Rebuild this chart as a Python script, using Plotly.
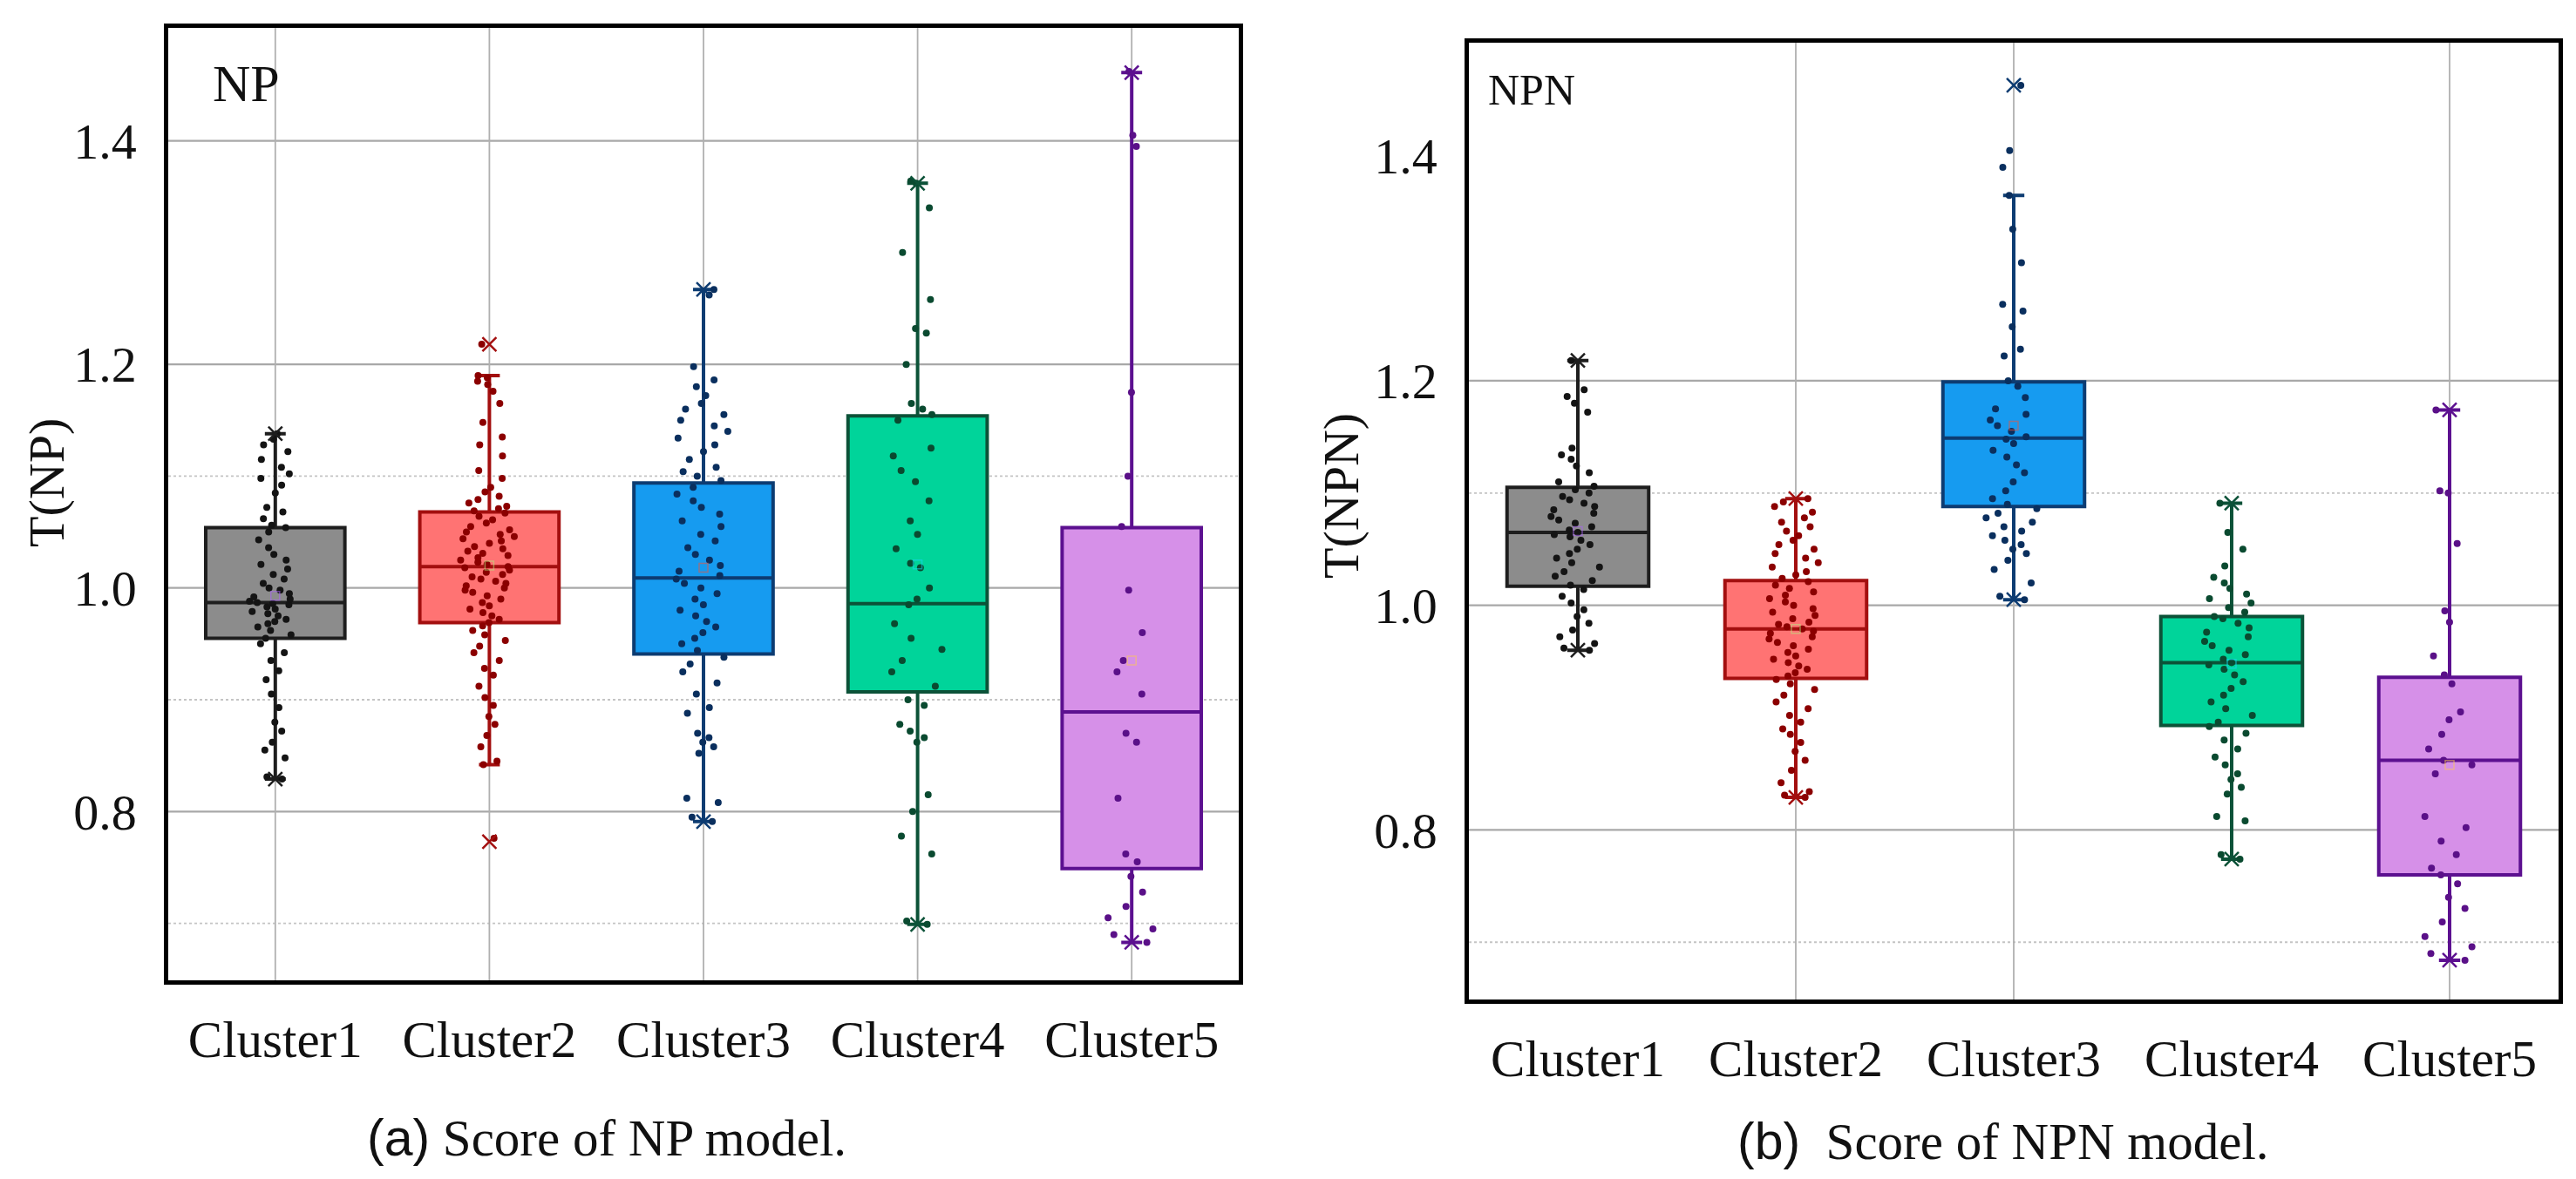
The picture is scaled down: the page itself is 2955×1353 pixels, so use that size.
import plotly.graph_objects as go

# ---------------- data ----------------
categories = ["Cluster1", "Cluster2", "Cluster3", "Cluster4", "Cluster5"]

# NP model: per-cluster scores
np_c1 = [0.829, 0.831, 0.848, 0.855, 0.862, 0.872, 0.880, 0.893, 0.905, 0.918, 0.926, 0.935, 0.942, 0.950,
         0.955, 0.958, 0.962, 0.965, 0.968, 0.970, 0.972, 0.975, 0.977, 0.979, 0.981, 0.983, 0.985, 0.986,
         0.987, 0.988, 0.990, 0.992, 0.995, 0.998, 1.000, 1.004, 1.008, 1.012, 1.017, 1.021, 1.025, 1.030,
         1.036, 1.043, 1.050, 1.054, 1.056, 1.062, 1.068, 1.072, 1.085, 1.092, 1.098, 1.102, 1.108, 1.115,
         1.122, 1.128, 1.133, 1.138]
np_c2 = [0.776, 0.842, 0.845, 0.858, 0.868, 0.878, 0.885, 0.895, 0.902, 0.912, 0.922, 0.928, 0.935, 0.942,
         0.948, 0.953, 0.958, 0.962, 0.966, 0.969, 0.972, 0.975, 0.978, 0.981, 0.984, 0.987, 0.990, 0.993,
         0.996, 0.998, 1.000, 1.002, 1.004, 1.006, 1.008, 1.010, 1.012, 1.014, 1.016, 1.018, 1.019, 1.021,
         1.023, 1.025, 1.027, 1.029, 1.031, 1.033, 1.035, 1.037, 1.040, 1.042, 1.044, 1.046, 1.048, 1.050,
         1.052, 1.055, 1.058, 1.061, 1.064, 1.067, 1.069, 1.071, 1.073, 1.076, 1.079, 1.082, 1.086, 1.090,
         1.098, 1.105, 1.118, 1.128, 1.135, 1.148, 1.165, 1.176, 1.182, 1.185, 1.188, 1.190, 1.218]
np_c3 = [0.791, 0.795, 0.808, 0.812, 0.852, 0.858, 0.862, 0.866, 0.870, 0.888, 0.893, 0.905, 0.915, 0.925,
         0.932, 0.938, 0.944, 0.950, 0.955, 0.960, 0.965, 0.970, 0.975, 0.980, 0.985, 0.990, 0.995, 1.000,
         1.004, 1.008, 1.011, 1.015, 1.020, 1.025, 1.030, 1.036, 1.042, 1.048, 1.055, 1.060, 1.066, 1.072,
         1.078, 1.084, 1.090, 1.096, 1.100, 1.104, 1.108, 1.115, 1.122, 1.128, 1.134, 1.140, 1.145, 1.150,
         1.155, 1.160, 1.165, 1.172, 1.180, 1.186, 1.198, 1.262, 1.267]
np_c4 = [0.699, 0.702, 0.762, 0.778, 0.800, 0.815, 0.862, 0.866, 0.872, 0.878, 0.895, 0.900, 0.912, 0.925,
         0.935, 0.945, 0.955, 0.968, 0.985, 0.990, 1.000, 1.018, 1.022, 1.035, 1.048, 1.060, 1.078, 1.095,
         1.105, 1.118, 1.125, 1.150, 1.155, 1.160, 1.165, 1.200, 1.228, 1.232, 1.258, 1.300, 1.340, 1.362,
         1.364]
np_c5 = [0.683, 0.690, 0.695, 0.705, 0.715, 0.728, 0.742, 0.755, 0.762, 0.812, 0.862, 0.870, 0.905, 0.925,
         0.935, 0.960, 0.998, 1.055, 1.100, 1.175, 1.395, 1.405, 1.462]

# NP box statistics
np_q1 = [0.955, 0.969, 0.941, 0.907, 0.749]
np_median = [0.987, 1.019, 1.009, 0.986, 0.889]
np_q3 = [1.054, 1.068, 1.094, 1.154, 1.054]
np_whisker_low = [0.829, 0.842, 0.791, 0.699, 0.683]
np_whisker_high = [1.138, 1.190, 1.267, 1.362, 1.461]
np_min = [0.829, 0.773, 0.791, 0.699, 0.683]
np_max = [1.138, 1.218, 1.267, 1.362, 1.461]
np_mean = [0.993, 1.020, 1.018, 1.021, 0.935]

# NPN model: per-cluster scores
npn_c1 = [0.960, 0.962, 0.966, 0.972, 0.978, 0.984, 0.990, 0.996, 1.002, 1.008, 1.014, 1.018, 1.022, 1.026,
          1.030, 1.034, 1.038, 1.042, 1.046, 1.050, 1.054, 1.058, 1.061, 1.063, 1.065, 1.067, 1.070, 1.073,
          1.076, 1.079, 1.082, 1.085, 1.088, 1.091, 1.094, 1.097, 1.100, 1.103, 1.106, 1.110, 1.118, 1.124,
          1.130, 1.134, 1.140, 1.172, 1.180, 1.186, 1.192, 1.218]
npn_c2 = [0.829, 0.831, 0.834, 0.842, 0.853, 0.862, 0.870, 0.878, 0.885, 0.890, 0.896, 0.902, 0.908, 0.914,
          0.920, 0.925, 0.930, 0.934, 0.937, 0.940, 0.943, 0.946, 0.949, 0.952, 0.955, 0.958, 0.961, 0.964,
          0.967, 0.970, 0.972, 0.975, 0.977, 0.979, 0.981, 0.983, 0.985, 0.988, 0.991, 0.994, 0.997, 1.000,
          1.003, 1.006, 1.009, 1.012, 1.015, 1.018, 1.021, 1.024, 1.027, 1.030, 1.034, 1.038, 1.042, 1.046,
          1.050, 1.054, 1.058, 1.062, 1.066, 1.070, 1.074, 1.078, 1.083, 1.088, 1.092, 1.095]
npn_c3 = [1.005, 1.008, 1.020, 1.032, 1.040, 1.046, 1.050, 1.054, 1.058, 1.062, 1.066, 1.070, 1.074, 1.078,
          1.082, 1.086, 1.090, 1.095, 1.102, 1.110, 1.118, 1.125, 1.132, 1.138, 1.144, 1.148, 1.150, 1.155,
          1.160, 1.165, 1.170, 1.175, 1.185, 1.195, 1.200, 1.222, 1.228, 1.248, 1.262, 1.268, 1.305, 1.335,
          1.365, 1.390, 1.405, 1.463]
npn_c4 = [0.774, 0.778, 0.808, 0.812, 0.832, 0.838, 0.845, 0.850, 0.858, 0.865, 0.872, 0.880, 0.886, 0.892,
          0.896, 0.902, 0.908, 0.914, 0.920, 0.926, 0.932, 0.938, 0.943, 0.947, 0.949, 0.952, 0.956, 0.960,
          0.964, 0.968, 0.972, 0.976, 0.980, 0.984, 0.988, 0.990, 0.994, 0.998, 1.002, 1.006, 1.010, 1.015,
          1.020, 1.025, 1.035, 1.050, 1.065, 1.091]
npn_c5 = [0.684, 0.690, 0.696, 0.705, 0.718, 0.730, 0.740, 0.752, 0.760, 0.766, 0.778, 0.790, 0.802, 0.812,
          0.850, 0.858, 0.862, 0.872, 0.885, 0.898, 0.905, 0.930, 0.938, 0.955, 0.985, 0.995, 1.055, 1.100,
          1.102, 1.174]

# NPN box statistics
npn_q1 = [1.017, 0.935, 1.088, 0.893, 0.760]
npn_median = [1.065, 0.979, 1.149, 0.949, 0.862]
npn_q3 = [1.105, 1.022, 1.199, 0.990, 0.936]
npn_whisker_low = [0.960, 0.829, 1.005, 0.774, 0.684]
npn_whisker_high = [1.218, 1.095, 1.365, 1.091, 1.174]
npn_min = [0.960, 0.829, 1.005, 0.774, 0.684]
npn_max = [1.218, 1.095, 1.463, 1.091, 1.174]
npn_mean = [1.066, 0.979, 1.160, 0.948, 0.858]

# axis ticks / grid values
y_tickvals = [0.8, 1.0, 1.2, 1.4]
y_ticktext = ["0.8", "1.0", "1.2", "1.4"]
np_major_grid = [0.8, 1.0, 1.2, 1.4]
np_minor_grid = [0.7, 0.9, 1.1]
npn_major_grid = [0.8, 1.0, 1.2]
npn_minor_grid = [0.7, 1.1]
np_vgrid = ["Cluster1", "Cluster2", "Cluster3", "Cluster4", "Cluster5"]
npn_vgrid = ["Cluster2", "Cluster3", "Cluster5"]

# ---------------- styles ----------------
fill_colors = ["#8c8c8c", "#ff7373", "#169bf0", "#00d49a", "#d690e8"]
line_colors = ["#1e1e1e", "#a30f0f", "#0d3c72", "#0c5238", "#5c1090"]
point_colors = ["#141414", "#8b0000", "#0a2f5e", "#0a4a30", "#5a1088"]
SERIF = "Liberation Serif, Times New Roman, serif"
SANS = "Liberation Sans, Arial, sans-serif"

fig = go.Figure()


def add_panel(samples, q1, med, q3, wlo, whi, vmin, vmax, vmean, xa, ya):
    for i, cat in enumerate(categories):
        fig.add_trace(go.Box(
            x=[cat], q1=[q1[i]], median=[med[i]], q3=[q3[i]],
            lowerfence=[wlo[i]], upperfence=[whi[i]],
            fillcolor=fill_colors[i], line=dict(color=line_colors[i], width=4),
            width=0.65, whiskerwidth=0.15, boxpoints=False,
            xaxis=xa, yaxis=ya, showlegend=False, hoverinfo="skip"))
        fig.add_trace(go.Box(
            x=[cat] * len(samples[i]), y=samples[i],
            boxpoints="all", jitter=0.42, pointpos=0,
            fillcolor="rgba(0,0,0,0)", line=dict(color="rgba(0,0,0,0)", width=0),
            marker=dict(size=8, color=point_colors[i]),
            width=0.65, xaxis=xa, yaxis=ya, showlegend=False))
        fig.add_trace(go.Scatter(
            x=[cat, cat], y=[vmin[i], vmax[i]], mode="markers",
            marker=dict(symbol="x-thin", size=16, line=dict(width=2.5, color=line_colors[i])),
            xaxis=xa, yaxis=ya, showlegend=False, hoverinfo="skip"))
        fig.add_trace(go.Scatter(
            x=[cat], y=[vmean[i]], mode="markers",
            marker=dict(symbol="square-open", size=10, opacity=0.55,
                        line=dict(width=1.5, color=line_colors[i])),
            xaxis=xa, yaxis=ya, showlegend=False, hoverinfo="skip"))


add_panel([np_c1, np_c2, np_c3, np_c4, np_c5], np_q1, np_median, np_q3,
          np_whisker_low, np_whisker_high, np_min, np_max, np_mean, "x", "y")
add_panel([npn_c1, npn_c2, npn_c3, npn_c4, npn_c5], npn_q1, npn_median, npn_q3,
          npn_whisker_low, npn_whisker_high, npn_min, npn_max, npn_mean, "x2", "y2")

# grid lines (below traces)
shapes = []
for xa, ya, major, minor, vg in [("x", "y", np_major_grid, np_minor_grid, np_vgrid),
                                 ("x2", "y2", npn_major_grid, npn_minor_grid, npn_vgrid)]:
    for v in major:
        shapes.append(dict(type="line", xref=f"{xa} domain", x0=0, x1=1, yref=ya, y0=v, y1=v,
                           layer="below", line=dict(color="#a8a8a8", width=2.2)))
    for v in minor:
        shapes.append(dict(type="line", xref=f"{xa} domain", x0=0, x1=1, yref=ya, y0=v, y1=v,
                           layer="below", line=dict(color="#c4c4c4", width=1.8, dash="dot")))
    for c in vg:
        shapes.append(dict(type="line", xref=xa, x0=c, x1=c, yref=f"{ya} domain", y0=0, y1=1,
                           layer="below", line=dict(color="#b0b0b0", width=1.8)))

W, H = 2955, 1353
axis_common = dict(showline=True, mirror=True, linecolor="black", linewidth=4.5,
                   showgrid=False, zeroline=False, ticks="", fixedrange=True)
xaxis_common = dict(axis_common, type="category", categoryorder="array", categoryarray=categories,
                    range=[-0.5, 4.5], tickfont=dict(family=SERIF, size=59, color="#111111"),
                    ticklabelstandoff=12)
yaxis_common = dict(axis_common, range=[0.649, 1.501], tickvals=y_tickvals, ticktext=y_ticktext,
                    tickfont=dict(family=SERIF, size=58, color="#111111"), ticklabelstandoff=20)

fig.update_layout(
    width=W, height=H, autosize=False,
    margin=dict(l=0, r=0, t=0, b=0),
    paper_bgcolor="white", plot_bgcolor="white",
    boxmode="overlay", showlegend=False,
    xaxis=dict(xaxis_common, domain=[185 / W, 1413 / W], anchor="y"),
    yaxis=dict(yaxis_common, domain=[1 - 1117 / H, 1 - 24 / H], anchor="x"),
    xaxis2=dict(xaxis_common, domain=[1677 / W, 2927 / W], anchor="y2"),
    yaxis2=dict(yaxis_common, domain=[1 - 1139 / H, 1 - 41 / H], anchor="x2"),
    shapes=shapes,
    annotations=[
        dict(text="NP", xref="x domain", yref="y domain", x=0.04, y=0.941, xanchor="left",
             yanchor="middle", showarrow=False, font=dict(family=SERIF, size=60, color="#111111")),
        dict(text="NPN", xref="x2 domain", yref="y2 domain", x=0.016, y=0.951, xanchor="left",
             yanchor="middle", showarrow=False, font=dict(family=SERIF, size=50, color="#111111")),
        dict(text="T(NP)", xref="paper", yref="paper", x=45 / W, y=1 - 546 / H, textangle=-90,
             xanchor="center", yanchor="middle", showarrow=False,
             font=dict(family=SERIF, size=58, color="#111111")),
        dict(text="T(NPN)", xref="paper", yref="paper", x=1531 / W, y=1 - 561 / H, textangle=-90,
             xanchor="center", yanchor="middle", showarrow=False,
             font=dict(family=SERIF, size=58, color="#111111")),
        dict(text=f'<span style="font-family:{SANS}">(a)</span> Score of NP model.',
             xref="paper", yref="paper", x=688 / W, y=1 - 1298 / H, xanchor="center",
             yanchor="middle", showarrow=False, font=dict(family=SERIF, size=59, color="#111111")),
        dict(text=f'<span style="font-family:{SANS}">(b)</span>  Score of NPN model.',
             xref="paper", yref="paper", x=2290 / W, y=1 - 1302 / H, xanchor="center",
             yanchor="middle", showarrow=False, font=dict(family=SERIF, size=59, color="#111111")),
    ],
)

fig.write_html("out.html")
